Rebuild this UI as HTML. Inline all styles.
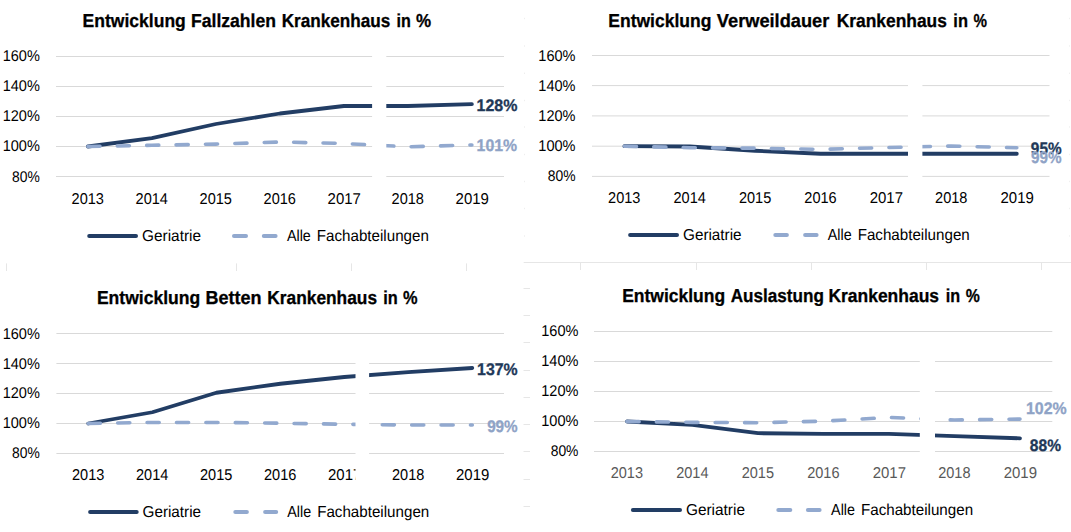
<!DOCTYPE html>
<html><head><meta charset="utf-8"><style>
html,body{margin:0;padding:0;background:#fff;}
body{width:1071px;height:532px;overflow:hidden;}
svg{display:block;font-family:"Liberation Sans",sans-serif;text-rendering:geometricPrecision;}
</style></head><body>
<svg width="1071" height="532" viewBox="0 0 1071 532">
<rect width="1071" height="532" fill="#fff"/>
<line x1="523.70" y1="262.50" x2="1071.00" y2="262.50" stroke="#E6E6E6" stroke-width="1" />
<line x1="6.50" y1="263.40" x2="6.50" y2="271.00" stroke="#E6E6E6" stroke-width="1" />
<line x1="236.50" y1="263.40" x2="236.50" y2="271.00" stroke="#E6E6E6" stroke-width="1" />
<line x1="351.50" y1="263.40" x2="351.50" y2="271.00" stroke="#E6E6E6" stroke-width="1" />
<line x1="466.50" y1="263.40" x2="466.50" y2="271.00" stroke="#E6E6E6" stroke-width="1" />
<line x1="580.50" y1="262.40" x2="580.50" y2="270.00" stroke="#E6E6E6" stroke-width="1" />
<line x1="696.50" y1="262.40" x2="696.50" y2="270.00" stroke="#E6E6E6" stroke-width="1" />
<line x1="811.50" y1="262.40" x2="811.50" y2="270.00" stroke="#E6E6E6" stroke-width="1" />
<line x1="926.50" y1="262.40" x2="926.50" y2="270.00" stroke="#E6E6E6" stroke-width="1" />
<line x1="1041.50" y1="262.40" x2="1041.50" y2="270.00" stroke="#E6E6E6" stroke-width="1" />
<line x1="523.50" y1="288.50" x2="530.00" y2="288.50" stroke="#E6E6E6" stroke-width="1" />
<line x1="523.50" y1="315.50" x2="530.00" y2="315.50" stroke="#E6E6E6" stroke-width="1" />
<line x1="523.50" y1="342.50" x2="530.00" y2="342.50" stroke="#E6E6E6" stroke-width="1" />
<line x1="523.50" y1="370.50" x2="530.00" y2="370.50" stroke="#E6E6E6" stroke-width="1" />
<line x1="523.50" y1="397.50" x2="530.00" y2="397.50" stroke="#E6E6E6" stroke-width="1" />
<line x1="523.50" y1="424.50" x2="530.00" y2="424.50" stroke="#E6E6E6" stroke-width="1" />
<line x1="523.50" y1="451.50" x2="530.00" y2="451.50" stroke="#E6E6E6" stroke-width="1" />
<line x1="523.50" y1="479.50" x2="530.00" y2="479.50" stroke="#E6E6E6" stroke-width="1" />
<line x1="523.50" y1="506.50" x2="530.00" y2="506.50" stroke="#E6E6E6" stroke-width="1" />
<line x1="524.50" y1="17.80" x2="524.50" y2="19.20" stroke="#EEEEEE" stroke-width="1" />
<line x1="1069.50" y1="17.80" x2="1069.50" y2="19.20" stroke="#F0F0F0" stroke-width="1" />
<line x1="524.50" y1="45.30" x2="524.50" y2="46.70" stroke="#EEEEEE" stroke-width="1" />
<line x1="1069.50" y1="45.30" x2="1069.50" y2="46.70" stroke="#F0F0F0" stroke-width="1" />
<line x1="524.50" y1="72.60" x2="524.50" y2="74.00" stroke="#EEEEEE" stroke-width="1" />
<line x1="1069.50" y1="72.60" x2="1069.50" y2="74.00" stroke="#F0F0F0" stroke-width="1" />
<line x1="524.50" y1="99.80" x2="524.50" y2="101.20" stroke="#EEEEEE" stroke-width="1" />
<line x1="1069.50" y1="99.80" x2="1069.50" y2="101.20" stroke="#F0F0F0" stroke-width="1" />
<line x1="524.50" y1="126.30" x2="524.50" y2="127.70" stroke="#EEEEEE" stroke-width="1" />
<line x1="1069.50" y1="126.30" x2="1069.50" y2="127.70" stroke="#F0F0F0" stroke-width="1" />
<line x1="524.50" y1="153.80" x2="524.50" y2="155.20" stroke="#EEEEEE" stroke-width="1" />
<line x1="1069.50" y1="153.80" x2="1069.50" y2="155.20" stroke="#F0F0F0" stroke-width="1" />
<line x1="524.50" y1="180.80" x2="524.50" y2="182.20" stroke="#EEEEEE" stroke-width="1" />
<line x1="1069.50" y1="180.80" x2="1069.50" y2="182.20" stroke="#F0F0F0" stroke-width="1" />
<line x1="524.50" y1="207.80" x2="524.50" y2="209.20" stroke="#EEEEEE" stroke-width="1" />
<line x1="1069.50" y1="207.80" x2="1069.50" y2="209.20" stroke="#F0F0F0" stroke-width="1" />
<line x1="524.50" y1="235.30" x2="524.50" y2="236.70" stroke="#EEEEEE" stroke-width="1" />
<line x1="1069.50" y1="235.30" x2="1069.50" y2="236.70" stroke="#F0F0F0" stroke-width="1" />
<line x1="56.00" y1="56.50" x2="504.00" y2="56.50" stroke="#D9D9D9" stroke-width="1" />
<line x1="56.00" y1="86.50" x2="504.00" y2="86.50" stroke="#D9D9D9" stroke-width="1" />
<line x1="56.00" y1="116.50" x2="504.00" y2="116.50" stroke="#D9D9D9" stroke-width="1" />
<line x1="56.00" y1="146.50" x2="504.00" y2="146.50" stroke="#D9D9D9" stroke-width="1" />
<line x1="56.00" y1="176.50" x2="504.00" y2="176.50" stroke="#D9D9D9" stroke-width="1" />
<polyline points="87.90,146.50 151.90,138.10 215.90,124.00 279.90,113.50 343.90,106.00 407.90,106.00 471.90,104.20" fill="none" stroke="#223D64" stroke-width="3.8" stroke-linecap="round" stroke-linejoin="round"/>
<polyline points="87.90,146.50 151.90,145.30 215.90,144.10 279.90,142.00 343.90,143.50 407.90,146.80 471.90,145.00" fill="none" stroke="#92A9CF" stroke-width="3.6" stroke-linecap="round" stroke-linejoin="round" stroke-dasharray="12.1 17.3"/>
<line x1="89.20" y1="236.00" x2="136.00" y2="236.00" stroke="#223D64" stroke-width="4" stroke-linecap="round"/>
<line x1="234.00" y1="236.00" x2="246.00" y2="236.00" stroke="#92A9CF" stroke-width="4" stroke-linecap="round"/>
<line x1="263.80" y1="236.00" x2="275.60" y2="236.00" stroke="#92A9CF" stroke-width="4" stroke-linecap="round"/>
<line x1="592.00" y1="55.50" x2="1049.50" y2="55.50" stroke="#D9D9D9" stroke-width="1" />
<line x1="592.00" y1="85.60" x2="1049.50" y2="85.60" stroke="#D9D9D9" stroke-width="1" />
<line x1="592.00" y1="115.90" x2="1049.50" y2="115.90" stroke="#D9D9D9" stroke-width="1" />
<line x1="592.00" y1="146.20" x2="1049.50" y2="146.20" stroke="#D9D9D9" stroke-width="1" />
<line x1="592.00" y1="176.40" x2="1049.50" y2="176.40" stroke="#D9D9D9" stroke-width="1" />
<polyline points="624.40,146.20 689.80,146.50 755.20,150.74 820.60,153.77 886.00,153.77 951.40,153.77 1016.80,153.77" fill="none" stroke="#223D64" stroke-width="3.8" stroke-linecap="round" stroke-linejoin="round"/>
<polyline points="624.40,146.20 689.80,147.71 755.20,148.17 820.60,149.38 886.00,147.56 951.40,146.05 1016.80,147.71" fill="none" stroke="#92A9CF" stroke-width="3.6" stroke-linecap="round" stroke-linejoin="round" stroke-dasharray="12.1 17.3"/>
<line x1="630.10" y1="234.90" x2="677.00" y2="234.90" stroke="#223D64" stroke-width="4" stroke-linecap="round"/>
<line x1="775.30" y1="234.90" x2="786.90" y2="234.90" stroke="#92A9CF" stroke-width="4" stroke-linecap="round"/>
<line x1="805.10" y1="234.90" x2="816.60" y2="234.90" stroke="#92A9CF" stroke-width="4" stroke-linecap="round"/>
<line x1="56.40" y1="333.50" x2="504.00" y2="333.50" stroke="#D9D9D9" stroke-width="1" />
<line x1="56.40" y1="363.50" x2="504.00" y2="363.50" stroke="#D9D9D9" stroke-width="1" />
<line x1="56.40" y1="393.50" x2="504.00" y2="393.50" stroke="#D9D9D9" stroke-width="1" />
<line x1="56.40" y1="423.50" x2="504.00" y2="423.50" stroke="#D9D9D9" stroke-width="1" />
<line x1="56.40" y1="453.50" x2="504.00" y2="453.50" stroke="#D9D9D9" stroke-width="1" />
<polyline points="88.30,423.50 152.30,412.25 216.30,392.75 280.30,383.75 344.30,377.00 408.30,372.05 472.30,368.00" fill="none" stroke="#223D64" stroke-width="3.8" stroke-linecap="round" stroke-linejoin="round"/>
<polyline points="88.30,423.50 152.30,422.45 216.30,422.45 280.30,423.20 344.30,424.25 408.30,425.00 472.30,425.00" fill="none" stroke="#92A9CF" stroke-width="3.6" stroke-linecap="round" stroke-linejoin="round" stroke-dasharray="12.1 17.3"/>
<line x1="90.10" y1="512.00" x2="136.70" y2="512.00" stroke="#223D64" stroke-width="4" stroke-linecap="round"/>
<line x1="235.30" y1="512.00" x2="246.90" y2="512.00" stroke="#92A9CF" stroke-width="4" stroke-linecap="round"/>
<line x1="265.10" y1="512.00" x2="276.20" y2="512.00" stroke="#92A9CF" stroke-width="4" stroke-linecap="round"/>
<line x1="594.00" y1="331.50" x2="1052.30" y2="331.50" stroke="#D9D9D9" stroke-width="1" />
<line x1="594.00" y1="361.50" x2="1052.30" y2="361.50" stroke="#D9D9D9" stroke-width="1" />
<line x1="594.00" y1="391.50" x2="1052.30" y2="391.50" stroke="#D9D9D9" stroke-width="1" />
<line x1="594.00" y1="421.50" x2="1052.30" y2="421.50" stroke="#D9D9D9" stroke-width="1" />
<line x1="594.00" y1="451.50" x2="1052.30" y2="451.50" stroke="#D9D9D9" stroke-width="1" />
<polyline points="627.00,421.50 692.50,424.95 758.00,433.20 823.50,433.80 889.00,433.80 954.50,436.20 1020.00,438.30" fill="none" stroke="#223D64" stroke-width="3.8" stroke-linecap="round" stroke-linejoin="round"/>
<polyline points="627.00,421.50 692.50,422.40 758.00,422.70 823.50,421.20 889.00,417.45 954.50,420.00 1020.00,419.10" fill="none" stroke="#92A9CF" stroke-width="3.6" stroke-linecap="round" stroke-linejoin="round" stroke-dasharray="12.1 17.3"/>
<line x1="632.90" y1="510.00" x2="680.00" y2="510.00" stroke="#223D64" stroke-width="4" stroke-linecap="round"/>
<line x1="778.30" y1="510.00" x2="790.30" y2="510.00" stroke="#92A9CF" stroke-width="4" stroke-linecap="round"/>
<line x1="807.90" y1="510.00" x2="819.60" y2="510.00" stroke="#92A9CF" stroke-width="4" stroke-linecap="round"/>
<text x="82.61" y="26.80" font-size="18.75" textLength="103.18" lengthAdjust="spacingAndGlyphs" fill="#000" font-weight="bold" stroke="#000" stroke-width="0.3">Entwicklung</text>
<text x="191.00" y="26.80" font-size="18.75" textLength="84.98" lengthAdjust="spacingAndGlyphs" fill="#000" font-weight="bold" stroke="#000" stroke-width="0.3">Fallzahlen</text>
<text x="281.72" y="26.80" font-size="18.75" textLength="108.63" lengthAdjust="spacingAndGlyphs" fill="#000" font-weight="bold" stroke="#000" stroke-width="0.3">Krankenhaus</text>
<text x="396.47" y="26.80" font-size="18.75" textLength="14.29" lengthAdjust="spacingAndGlyphs" fill="#000" font-weight="bold" stroke="#000" stroke-width="0.3">in</text>
<text x="416.04" y="26.80" font-size="18.75" textLength="15.13" lengthAdjust="spacingAndGlyphs" fill="#000" font-weight="bold" stroke="#000" stroke-width="0.3">%</text>
<text x="2.67" y="60.80" font-size="15.55" textLength="37.17" lengthAdjust="spacingAndGlyphs" fill="#000">160%</text>
<text x="2.67" y="91.00" font-size="15.55" textLength="37.17" lengthAdjust="spacingAndGlyphs" fill="#000">140%</text>
<text x="2.67" y="121.20" font-size="15.55" textLength="37.17" lengthAdjust="spacingAndGlyphs" fill="#000">120%</text>
<text x="2.67" y="151.40" font-size="15.55" textLength="37.17" lengthAdjust="spacingAndGlyphs" fill="#000">100%</text>
<text x="12.10" y="181.60" font-size="15.55" textLength="27.74" lengthAdjust="spacingAndGlyphs" fill="#000">80%</text>
<text x="71.60" y="203.70" font-size="15.7" textLength="32.34" lengthAdjust="spacingAndGlyphs" fill="#000">2013</text>
<text x="135.60" y="203.70" font-size="15.7" textLength="32.34" lengthAdjust="spacingAndGlyphs" fill="#000">2014</text>
<text x="199.60" y="203.70" font-size="15.7" textLength="32.34" lengthAdjust="spacingAndGlyphs" fill="#000">2015</text>
<text x="263.60" y="203.70" font-size="15.7" textLength="32.34" lengthAdjust="spacingAndGlyphs" fill="#000">2016</text>
<text x="327.60" y="203.70" font-size="15.7" textLength="33.29" lengthAdjust="spacingAndGlyphs" fill="#000">2017</text>
<text x="391.60" y="203.70" font-size="15.7" textLength="32.34" lengthAdjust="spacingAndGlyphs" fill="#000">2018</text>
<text x="455.60" y="203.70" font-size="15.7" textLength="33.29" lengthAdjust="spacingAndGlyphs" fill="#000">2019</text>
<text x="142.00" y="240.70" font-size="15.84" textLength="59.01" lengthAdjust="spacingAndGlyphs" fill="#000">Geriatrie</text>
<text x="286.90" y="240.60" font-size="15.84" textLength="23.92" lengthAdjust="spacingAndGlyphs" fill="#000">Alle</text>
<text x="316.74" y="240.60" font-size="15.84" textLength="112.13" lengthAdjust="spacingAndGlyphs" fill="#000">Fachabteilungen</text>
<text x="476.59" y="110.70" font-size="16.72" textLength="40.93" lengthAdjust="spacingAndGlyphs" fill="#213858" font-weight="bold" stroke="#213858" stroke-width="0.3">128%</text>
<text x="476.59" y="150.50" font-size="16.72" textLength="40.52" lengthAdjust="spacingAndGlyphs" fill="#8FA3C6" font-weight="bold" stroke="#8FA3C6" stroke-width="0.3">101%</text>
<text x="608.31" y="26.70" font-size="18.75" textLength="103.08" lengthAdjust="spacingAndGlyphs" fill="#000" font-weight="bold" stroke="#000" stroke-width="0.3">Entwicklung</text>
<text x="716.85" y="26.70" font-size="18.75" textLength="112.43" lengthAdjust="spacingAndGlyphs" fill="#000" font-weight="bold" stroke="#000" stroke-width="0.3">Verweildauer</text>
<text x="836.81" y="26.70" font-size="18.75" textLength="110.04" lengthAdjust="spacingAndGlyphs" fill="#000" font-weight="bold" stroke="#000" stroke-width="0.3">Krankenhaus</text>
<text x="953.35" y="26.70" font-size="18.75" textLength="14.61" lengthAdjust="spacingAndGlyphs" fill="#000" font-weight="bold" stroke="#000" stroke-width="0.3">in</text>
<text x="973.42" y="26.70" font-size="18.75" textLength="13.49" lengthAdjust="spacingAndGlyphs" fill="#000" font-weight="bold" stroke="#000" stroke-width="0.3">%</text>
<text x="538.37" y="60.80" font-size="15.55" textLength="37.17" lengthAdjust="spacingAndGlyphs" fill="#000">160%</text>
<text x="538.37" y="90.80" font-size="15.55" textLength="37.17" lengthAdjust="spacingAndGlyphs" fill="#000">140%</text>
<text x="538.37" y="120.80" font-size="15.55" textLength="37.17" lengthAdjust="spacingAndGlyphs" fill="#000">120%</text>
<text x="538.37" y="150.80" font-size="15.55" textLength="37.17" lengthAdjust="spacingAndGlyphs" fill="#000">100%</text>
<text x="547.80" y="180.80" font-size="15.55" textLength="27.74" lengthAdjust="spacingAndGlyphs" fill="#000">80%</text>
<text x="608.10" y="202.80" font-size="15.7" textLength="32.34" lengthAdjust="spacingAndGlyphs" fill="#000">2013</text>
<text x="673.50" y="202.80" font-size="15.7" textLength="32.34" lengthAdjust="spacingAndGlyphs" fill="#000">2014</text>
<text x="738.90" y="202.80" font-size="15.7" textLength="32.34" lengthAdjust="spacingAndGlyphs" fill="#000">2015</text>
<text x="804.30" y="202.80" font-size="15.7" textLength="32.34" lengthAdjust="spacingAndGlyphs" fill="#000">2016</text>
<text x="869.70" y="202.80" font-size="15.7" textLength="33.29" lengthAdjust="spacingAndGlyphs" fill="#000">2017</text>
<text x="935.10" y="202.80" font-size="15.7" textLength="32.34" lengthAdjust="spacingAndGlyphs" fill="#000">2018</text>
<text x="1000.50" y="202.80" font-size="15.7" textLength="33.29" lengthAdjust="spacingAndGlyphs" fill="#000">2019</text>
<text x="683.00" y="239.60" font-size="15.84" textLength="58.61" lengthAdjust="spacingAndGlyphs" fill="#000">Geriatrie</text>
<text x="827.80" y="239.60" font-size="15.84" textLength="23.92" lengthAdjust="spacingAndGlyphs" fill="#000">Alle</text>
<text x="857.64" y="239.60" font-size="15.84" textLength="112.13" lengthAdjust="spacingAndGlyphs" fill="#000">Fachabteilungen</text>
<text x="1030.84" y="154.20" font-size="16.72" textLength="30.79" lengthAdjust="spacingAndGlyphs" fill="#213858" font-weight="bold" stroke="#213858" stroke-width="0.3">95%</text>
<text x="1031.04" y="162.90" font-size="16.72" textLength="30.59" lengthAdjust="spacingAndGlyphs" fill="#8FA3C6" font-weight="bold" stroke="#8FA3C6" stroke-width="0.3">99%</text>
<text x="96.90" y="303.60" font-size="18.75" textLength="103.28" lengthAdjust="spacingAndGlyphs" fill="#000" font-weight="bold" stroke="#000" stroke-width="0.3">Entwicklung</text>
<text x="205.48" y="303.60" font-size="18.75" textLength="56.01" lengthAdjust="spacingAndGlyphs" fill="#000" font-weight="bold" stroke="#000" stroke-width="0.3">Betten</text>
<text x="267.31" y="303.60" font-size="18.75" textLength="109.74" lengthAdjust="spacingAndGlyphs" fill="#000" font-weight="bold" stroke="#000" stroke-width="0.3">Krankenhaus</text>
<text x="383.26" y="303.60" font-size="18.75" textLength="14.50" lengthAdjust="spacingAndGlyphs" fill="#000" font-weight="bold" stroke="#000" stroke-width="0.3">in</text>
<text x="403.03" y="303.60" font-size="18.75" textLength="14.55" lengthAdjust="spacingAndGlyphs" fill="#000" font-weight="bold" stroke="#000" stroke-width="0.3">%</text>
<text x="2.67" y="338.80" font-size="15.55" textLength="37.17" lengthAdjust="spacingAndGlyphs" fill="#000">160%</text>
<text x="2.67" y="368.57" font-size="15.55" textLength="37.17" lengthAdjust="spacingAndGlyphs" fill="#000">140%</text>
<text x="2.67" y="398.35" font-size="15.55" textLength="37.17" lengthAdjust="spacingAndGlyphs" fill="#000">120%</text>
<text x="2.67" y="428.12" font-size="15.55" textLength="37.17" lengthAdjust="spacingAndGlyphs" fill="#000">100%</text>
<text x="12.10" y="457.90" font-size="15.55" textLength="27.74" lengthAdjust="spacingAndGlyphs" fill="#000">80%</text>
<text x="72.00" y="479.70" font-size="15.7" textLength="32.34" lengthAdjust="spacingAndGlyphs" fill="#000">2013</text>
<text x="136.00" y="479.70" font-size="15.7" textLength="32.34" lengthAdjust="spacingAndGlyphs" fill="#000">2014</text>
<text x="200.00" y="479.70" font-size="15.7" textLength="32.34" lengthAdjust="spacingAndGlyphs" fill="#000">2015</text>
<text x="264.00" y="479.70" font-size="15.7" textLength="32.34" lengthAdjust="spacingAndGlyphs" fill="#000">2016</text>
<text x="328.00" y="479.70" font-size="15.7" textLength="33.29" lengthAdjust="spacingAndGlyphs" fill="#000">2017</text>
<text x="392.00" y="479.70" font-size="15.7" textLength="32.34" lengthAdjust="spacingAndGlyphs" fill="#000">2018</text>
<text x="456.00" y="479.70" font-size="15.7" textLength="33.29" lengthAdjust="spacingAndGlyphs" fill="#000">2019</text>
<text x="142.50" y="516.50" font-size="15.84" textLength="58.61" lengthAdjust="spacingAndGlyphs" fill="#000">Geriatrie</text>
<text x="287.30" y="516.50" font-size="15.84" textLength="23.92" lengthAdjust="spacingAndGlyphs" fill="#000">Alle</text>
<text x="317.14" y="516.50" font-size="15.84" textLength="112.13" lengthAdjust="spacingAndGlyphs" fill="#000">Fachabteilungen</text>
<text x="477.09" y="374.50" font-size="16.72" textLength="40.62" lengthAdjust="spacingAndGlyphs" fill="#213858" font-weight="bold" stroke="#213858" stroke-width="0.3">137%</text>
<text x="487.14" y="431.50" font-size="16.72" textLength="30.59" lengthAdjust="spacingAndGlyphs" fill="#8FA3C6" font-weight="bold" stroke="#8FA3C6" stroke-width="0.3">99%</text>
<text x="622.21" y="301.80" font-size="18.75" textLength="102.87" lengthAdjust="spacingAndGlyphs" fill="#000" font-weight="bold" stroke="#000" stroke-width="0.3">Entwicklung</text>
<text x="730.74" y="301.80" font-size="18.75" textLength="93.14" lengthAdjust="spacingAndGlyphs" fill="#000" font-weight="bold" stroke="#000" stroke-width="0.3">Auslastung</text>
<text x="828.41" y="301.80" font-size="18.75" textLength="110.65" lengthAdjust="spacingAndGlyphs" fill="#000" font-weight="bold" stroke="#000" stroke-width="0.3">Krankenhaus</text>
<text x="945.77" y="301.80" font-size="18.75" textLength="14.40" lengthAdjust="spacingAndGlyphs" fill="#000" font-weight="bold" stroke="#000" stroke-width="0.3">in</text>
<text x="965.63" y="301.80" font-size="18.75" textLength="14.07" lengthAdjust="spacingAndGlyphs" fill="#000" font-weight="bold" stroke="#000" stroke-width="0.3">%</text>
<text x="541.27" y="335.60" font-size="15.55" textLength="37.17" lengthAdjust="spacingAndGlyphs" fill="#000">160%</text>
<text x="541.27" y="365.65" font-size="15.55" textLength="37.17" lengthAdjust="spacingAndGlyphs" fill="#000">140%</text>
<text x="541.27" y="395.70" font-size="15.55" textLength="37.17" lengthAdjust="spacingAndGlyphs" fill="#000">120%</text>
<text x="541.27" y="425.75" font-size="15.55" textLength="37.17" lengthAdjust="spacingAndGlyphs" fill="#000">100%</text>
<text x="550.70" y="455.80" font-size="15.55" textLength="27.74" lengthAdjust="spacingAndGlyphs" fill="#000">80%</text>
<text x="610.70" y="477.80" font-size="15.7" textLength="32.34" lengthAdjust="spacingAndGlyphs" fill="#595959">2013</text>
<text x="676.20" y="477.80" font-size="15.7" textLength="32.34" lengthAdjust="spacingAndGlyphs" fill="#595959">2014</text>
<text x="741.70" y="477.80" font-size="15.7" textLength="32.34" lengthAdjust="spacingAndGlyphs" fill="#595959">2015</text>
<text x="807.20" y="477.80" font-size="15.7" textLength="32.34" lengthAdjust="spacingAndGlyphs" fill="#595959">2016</text>
<text x="872.70" y="477.80" font-size="15.7" textLength="33.29" lengthAdjust="spacingAndGlyphs" fill="#595959">2017</text>
<text x="938.20" y="477.80" font-size="15.7" textLength="32.34" lengthAdjust="spacingAndGlyphs" fill="#595959">2018</text>
<text x="1003.70" y="477.80" font-size="15.7" textLength="33.29" lengthAdjust="spacingAndGlyphs" fill="#595959">2019</text>
<text x="685.90" y="514.50" font-size="15.84" textLength="59.11" lengthAdjust="spacingAndGlyphs" fill="#000">Geriatrie</text>
<text x="831.10" y="514.50" font-size="15.84" textLength="23.92" lengthAdjust="spacingAndGlyphs" fill="#000">Alle</text>
<text x="860.94" y="514.50" font-size="15.84" textLength="112.13" lengthAdjust="spacingAndGlyphs" fill="#000">Fachabteilungen</text>
<text x="1025.99" y="413.80" font-size="16.72" textLength="40.73" lengthAdjust="spacingAndGlyphs" fill="#8FA3C6" font-weight="bold" stroke="#8FA3C6" stroke-width="0.3">102%</text>
<text x="1029.84" y="450.70" font-size="16.72" textLength="31.18" lengthAdjust="spacingAndGlyphs" fill="#213858" font-weight="bold" stroke="#213858" stroke-width="0.3">88%</text>
<rect x="372.1" y="40" width="14.2" height="150" fill="#fff"/>
<rect x="908" y="62" width="14.4" height="128" fill="#fff"/>
<rect x="355.5" y="357" width="13.6" height="135" fill="#fff"/>
<rect x="919.8" y="355" width="15.2" height="137" fill="#fff"/>
</svg>
</body></html>
